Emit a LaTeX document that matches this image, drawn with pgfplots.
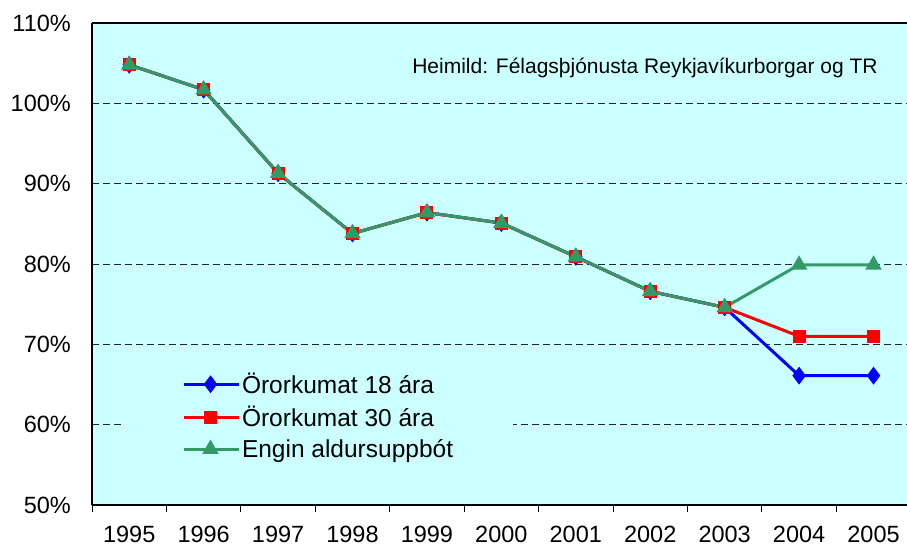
\documentclass[border=0pt]{standalone}
\usepackage{pgfplots}
\pgfplotsset{compat=1.18}
\usepackage{fontspec}
\setmainfont{Liberation Sans}
\definecolor{bgcyan}{HTML}{CCFFFF}
\definecolor{sgreen}{HTML}{339966}
\begin{document}
\begin{tikzpicture}
\useasboundingbox (0,0) rectangle (907pt,550pt);
\begin{axis}[
  at={(92pt,45pt)}, anchor=south west,
  scale only axis, width=815pt, height=482pt,
  xmin=-0.5, xmax=10.45, ymin=50, ymax=110,
  axis background/.style={fill=bgcyan},
  axis y line*=left, axis x line*=bottom,
  axis line style={-, line width=1.2pt, black},
  xtick={0,1,2,3,4,5,6,7,8,9,10},
  xticklabels={1995,1996,1997,1998,1999,2000,2001,2002,2003,2004,2005},
  minor xtick={-0.5,0.5,1.5,2.5,3.5,4.5,5.5,6.5,7.5,8.5,9.5},
  ytick={50,60,70,80,90,100,110},
  yticklabels={50\%,60\%,70\%,80\%,90\%,100\%,110\%},
  major tick length=0pt, minor tick length=7pt,
  tick align=outside,
  minor tick style={black, line width=0.8pt},
  ymajorgrids, grid style={black!85, line width=0.8pt, dash pattern=on 7pt off 4pt},
  tick label style={font=\fontsize{23.5}{27}\selectfont},
  yticklabel style={anchor=east, inner sep=0pt, xshift=-21pt},
  xticklabel style={anchor=north, inner sep=0pt, yshift=-21pt},
  legend style={at={(0.278,0.1846)}, anchor=center, draw=none, fill=bgcyan,
    font=\fontsize{24.5}{28}\selectfont, inner xsep=58pt, inner ysep=10pt,
    row sep=7pt},
  legend cell align=left,
  legend image code/.code={\draw[mark repeat=2,mark phase=2,#1] plot coordinates {(0pt,0pt) (27pt,0pt) (55pt,0pt)};},
  clip=false,
]
\addplot[blue, line width=3pt, mark=diamond*, mark size=6.5pt, mark options={solid}] coordinates {
 (0,104.8) (1,101.7) (2,91.3) (3,83.8) (4,86.4) (5,85.1) (6,80.9) (7,76.6) (8,74.6) (9,66.1) (10,66.1)};
\addlegendentry{Örorkumat 18 ára}
\addplot[red, line width=3pt, mark=square*, mark size=5pt, mark options={solid}] coordinates {
 (0,104.8) (1,101.7) (2,91.3) (3,83.8) (4,86.4) (5,85.1) (6,80.9) (7,76.6) (8,74.6) (9,71.0) (10,71.0)};
\addlegendentry{Örorkumat 30 ára}
\addplot[sgreen, line width=3pt, mark=triangle*, mark size=6.5pt, mark options={solid}] coordinates {
 (0,104.8) (1,101.7) (2,91.3) (3,83.8) (4,86.4) (5,85.1) (6,80.9) (7,76.6) (8,74.6) (9,79.9) (10,79.9)};
\addlegendentry{Engin aldursuppbót}
\draw[black, line width=1.2pt] (rel axis cs:0,1) -- (rel axis cs:1,1);
\node[font=\fontsize{21}{25}\selectfont] at (axis description cs:0.6785,0.907) {Heimild: Félagsþjónusta Reykjavíkurborgar og TR};
\end{axis}
\end{tikzpicture}
\end{document}
